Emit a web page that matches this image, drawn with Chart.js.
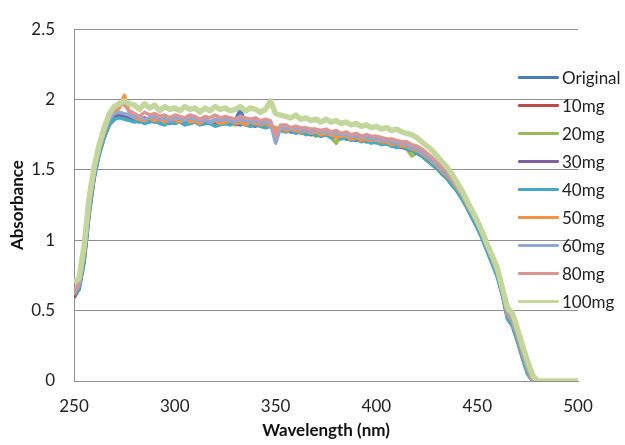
<!DOCTYPE html>
<html lang="en">
<head>
  <meta charset="UTF-8" />
  <title>Absorbance Spectra</title>
  <script src="https://cdn.jsdelivr.net/npm/chart.js"></script>
  <style>
    body {
      margin: 0;
      background: #ffffff;
      font-family: "Lato", sans-serif;
    }

    .wrap {
      position: relative;
      width: 625px;
      height: 445px;
    }

    .legend {
      position: absolute;
      left: 518px;
      top: 63px;
      color: #222;
      font-size: 17px;
    }

    .legend-item {
      display: flex;
      align-items: center;
      height: 28px;
    }

    .legend-item span.swatch {
      display: inline-block;
      width: 41px;
      height: 3px;
      margin-right: 3px;
      border-radius: 1px;
    }
  </style>
</head>
<body>

  <div class="wrap">
    <canvas id="spectra" width="625" height="445"></canvas>
    <div class="legend" id="legend"></div>
  </div>

  <script>
    // wavelength (nm), every 2.5 nm
    const wavelengths = [
      250, 252.5, 255, 257.5, 260, 262.5, 265, 267.5, 270, 272.5,
      275, 277.5, 280, 282.5, 285, 287.5, 290, 292.5, 295, 297.5,
      300, 302.5, 305, 307.5, 310, 312.5, 315, 317.5, 320, 322.5,
      325, 327.5, 330, 332.5, 335, 337.5, 340, 342.5, 345, 347.5,
      350, 352.5, 355, 357.5, 360, 362.5, 365, 367.5, 370, 372.5,
      375, 377.5, 380, 382.5, 385, 387.5, 390, 392.5, 395, 397.5,
      400, 402.5, 405, 407.5, 410, 412.5, 415, 417.5, 420, 422.5,
      425, 427.5, 430, 432.5, 435, 437.5, 440, 442.5, 445, 447.5,
      450, 452.5, 455, 457.5, 460, 462.5, 465, 467.5, 470, 472.5,
      475, 477.5, 480, 482.5, 485, 487.5, 490, 492.5, 495, 497.5,
      500
    ];

    const seriesNames = ['Original', '10mg', '20mg', '30mg', '40mg', '50mg', '60mg', '80mg', '100mg'];
    const seriesColors = ['#4a7ebb', '#be4b48', '#98b954', '#7d60a0', '#46aac5', '#f69240', '#8ea8d6', '#d99694', '#c3d69b'];

    const original = [
      0.60, 0.65, 0.84, 1.18, 1.44, 1.61, 1.73, 1.82, 1.86, 1.88,
      1.87, 1.86, 1.85, 1.86, 1.84, 1.85, 1.86, 1.84, 1.83, 1.85,
      1.84, 1.85, 1.83, 1.84, 1.85, 1.83, 1.84, 1.84, 1.82, 1.83,
      1.84, 1.83, 1.85, 1.93, 1.83, 1.82, 1.83, 1.82, 1.81, 1.82,
      1.78, 1.79, 1.78, 1.79, 1.77, 1.78, 1.76, 1.77, 1.76, 1.75,
      1.76, 1.74, 1.75, 1.73, 1.74, 1.72, 1.73, 1.71, 1.72, 1.70,
      1.71, 1.69, 1.70, 1.68, 1.67, 1.68, 1.66, 1.65, 1.63, 1.61,
      1.58, 1.55, 1.52, 1.48, 1.45, 1.40, 1.36, 1.30, 1.24, 1.17,
      1.10, 1.02, 0.93, 0.84, 0.75, 0.62, 0.45, 0.40, 0.29, 0.17,
      0.06, 0, 0, 0, 0, 0, 0, 0, 0, 0,
      0
    ];
    const mg10 = [
      0.59, 0.66, 0.86, 1.20, 1.46, 1.62, 1.75, 1.84, 1.88, 1.90,
      1.89, 1.87, 1.86, 1.85, 1.87, 1.85, 1.86, 1.84, 1.86, 1.85,
      1.84, 1.86, 1.84, 1.85, 1.86, 1.84, 1.85, 1.83, 1.85, 1.84,
      1.85, 1.83, 1.84, 1.85, 1.83, 1.84, 1.82, 1.84, 1.83, 1.82,
      1.79, 1.80, 1.79, 1.78, 1.79, 1.77, 1.78, 1.76, 1.77, 1.76,
      1.75, 1.76, 1.74, 1.75, 1.73, 1.74, 1.72, 1.73, 1.71, 1.72,
      1.70, 1.71, 1.69, 1.70, 1.68, 1.67, 1.67, 1.66, 1.64, 1.62,
      1.59, 1.56, 1.53, 1.49, 1.46, 1.41, 1.37, 1.31, 1.25, 1.18,
      1.11, 1.03, 0.94, 0.85, 0.76, 0.63, 0.46, 0.41, 0.30, 0.18,
      0.07, 0, 0, 0, 0, 0, 0, 0, 0, 0,
      0
    ];
    const mg20 = [
      0.61, 0.67, 0.88, 1.22, 1.47, 1.63, 1.75, 1.84, 1.88, 1.89,
      1.88, 1.87, 1.85, 1.86, 1.85, 1.84, 1.86, 1.85, 1.83, 1.85,
      1.85, 1.84, 1.83, 1.85, 1.84, 1.83, 1.85, 1.84, 1.83, 1.84,
      1.83, 1.84, 1.82, 1.84, 1.83, 1.81, 1.83, 1.82, 1.82, 1.81,
      1.80, 1.79, 1.77, 1.78, 1.78, 1.76, 1.77, 1.76, 1.74, 1.76,
      1.75, 1.73, 1.69, 1.74, 1.72, 1.73, 1.71, 1.72, 1.70, 1.71,
      1.69, 1.70, 1.68, 1.69, 1.66, 1.67, 1.65, 1.60, 1.62, 1.60,
      1.57, 1.54, 1.51, 1.47, 1.44, 1.39, 1.35, 1.29, 1.23, 1.16,
      1.09, 1.01, 0.92, 0.83, 0.74, 0.61, 0.45, 0.39, 0.28, 0.16,
      0.05, 0, 0, 0, 0, 0, 0, 0, 0, 0,
      0
    ];
    const mg30 = [
      0.60, 0.66, 0.87, 1.21, 1.46, 1.63, 1.74, 1.83, 1.87, 1.89,
      1.88, 1.86, 1.85, 1.84, 1.86, 1.85, 1.84, 1.85, 1.84, 1.83,
      1.85, 1.84, 1.84, 1.83, 1.85, 1.84, 1.83, 1.84, 1.83, 1.84,
      1.83, 1.84, 1.83, 1.82, 1.84, 1.82, 1.81, 1.83, 1.81, 1.82,
      1.78, 1.78, 1.79, 1.77, 1.77, 1.78, 1.76, 1.75, 1.76, 1.74,
      1.75, 1.74, 1.73, 1.74, 1.72, 1.72, 1.71, 1.72, 1.70, 1.71,
      1.70, 1.68, 1.69, 1.67, 1.67, 1.66, 1.65, 1.64, 1.62, 1.60,
      1.57, 1.54, 1.51, 1.48, 1.44, 1.40, 1.35, 1.30, 1.23, 1.16,
      1.09, 1.02, 0.93, 0.84, 0.75, 0.61, 0.46, 0.40, 0.29, 0.17,
      0.06, 0, 0, 0, 0, 0, 0, 0, 0, 0,
      0
    ];
    const mg40 = [
      0.61, 0.65, 0.85, 1.19, 1.45, 1.61, 1.73, 1.82, 1.86, 1.87,
      1.86, 1.85, 1.84, 1.85, 1.83, 1.84, 1.85, 1.83, 1.82, 1.84,
      1.83, 1.84, 1.82, 1.83, 1.84, 1.82, 1.83, 1.83, 1.81, 1.82,
      1.83, 1.82, 1.84, 1.83, 1.82, 1.81, 1.82, 1.81, 1.80, 1.81,
      1.77, 1.78, 1.77, 1.78, 1.76, 1.77, 1.75, 1.76, 1.75, 1.74,
      1.75, 1.73, 1.74, 1.72, 1.73, 1.71, 1.72, 1.70, 1.71, 1.69,
      1.70, 1.68, 1.69, 1.67, 1.66, 1.67, 1.65, 1.64, 1.62, 1.60,
      1.57, 1.54, 1.51, 1.47, 1.44, 1.39, 1.35, 1.29, 1.23, 1.16,
      1.09, 1.01, 0.92, 0.83, 0.74, 0.61, 0.44, 0.39, 0.28, 0.16,
      0.05, 0, 0, 0, 0, 0, 0, 0, 0, 0,
      0
    ];
    const mg50 = [
      0.62, 0.68, 0.89, 1.23, 1.48, 1.64, 1.76, 1.86, 1.91, 1.94,
      2.03, 1.90, 1.87, 1.86, 1.85, 1.87, 1.85, 1.86, 1.84, 1.86,
      1.85, 1.84, 1.86, 1.84, 1.85, 1.83, 1.86, 1.84, 1.85, 1.83,
      1.84, 1.85, 1.83, 1.84, 1.82, 1.84, 1.83, 1.82, 1.83, 1.81,
      1.79, 1.80, 1.78, 1.79, 1.78, 1.77, 1.78, 1.76, 1.77, 1.75,
      1.76, 1.75, 1.73, 1.74, 1.74, 1.72, 1.73, 1.71, 1.72, 1.71,
      1.71, 1.70, 1.70, 1.68, 1.69, 1.67, 1.67, 1.65, 1.64, 1.62,
      1.59, 1.56, 1.53, 1.49, 1.46, 1.42, 1.37, 1.32, 1.25, 1.19,
      1.12, 1.04, 0.95, 0.86, 0.77, 0.64, 0.47, 0.42, 0.31, 0.19,
      0.08, 0, 0, 0, 0, 0, 0, 0, 0, 0,
      0
    ];
    const mg60 = [
      0.63, 0.68, 0.90, 1.24, 1.48, 1.65, 1.77, 1.86, 1.90, 1.91,
      1.90, 1.89, 1.87, 1.88, 1.86, 1.87, 1.88, 1.86, 1.87, 1.85,
      1.87, 1.86, 1.85, 1.87, 1.86, 1.85, 1.86, 1.84, 1.86, 1.85,
      1.86, 1.85, 1.84, 1.86, 1.85, 1.84, 1.85, 1.83, 1.84, 1.83,
      1.69, 1.80, 1.80, 1.79, 1.80, 1.78, 1.79, 1.77, 1.78, 1.77,
      1.77, 1.76, 1.76, 1.75, 1.75, 1.74, 1.74, 1.73, 1.73, 1.72,
      1.72, 1.71, 1.71, 1.70, 1.69, 1.69, 1.68, 1.66, 1.65, 1.63,
      1.60, 1.57, 1.54, 1.50, 1.47, 1.43, 1.38, 1.32, 1.26, 1.19,
      1.12, 1.04, 0.95, 0.86, 0.77, 0.64, 0.48, 0.43, 0.32, 0.20,
      0.09, 0.01, 0, 0, 0, 0, 0, 0, 0, 0,
      0
    ];
    const mg80 = [
      0.64, 0.70, 0.92, 1.26, 1.50, 1.66, 1.78, 1.88, 1.93, 1.98,
      1.96, 1.92, 1.90, 1.88, 1.91, 1.89, 1.90, 1.88, 1.89, 1.87,
      1.89, 1.88, 1.87, 1.89, 1.88, 1.86, 1.88, 1.87, 1.89, 1.87,
      1.88, 1.87, 1.86, 1.88, 1.87, 1.86, 1.87, 1.85, 1.86, 1.85,
      1.74, 1.82, 1.82, 1.80, 1.81, 1.80, 1.80, 1.79, 1.79, 1.78,
      1.79, 1.77, 1.78, 1.76, 1.77, 1.75, 1.76, 1.74, 1.75, 1.74,
      1.74, 1.73, 1.72, 1.72, 1.71, 1.70, 1.70, 1.68, 1.67, 1.65,
      1.62, 1.59, 1.56, 1.52, 1.49, 1.44, 1.39, 1.33, 1.27, 1.20,
      1.13, 1.05, 0.96, 0.87, 0.78, 0.65, 0.50, 0.45, 0.34, 0.22,
      0.11, 0.02, 0, 0, 0, 0, 0, 0, 0, 0,
      0
    ];
    const mg100 = [
      0.70, 0.73, 0.96, 1.30, 1.52, 1.68, 1.80, 1.90, 1.95, 1.97,
      1.99, 1.97, 1.96, 1.93, 1.97, 1.94, 1.96, 1.92, 1.95, 1.93,
      1.94, 1.92, 1.95, 1.93, 1.94, 1.91, 1.94, 1.92, 1.95, 1.93,
      1.94, 1.92, 1.93, 1.95, 1.92, 1.94, 1.93, 1.91, 1.93, 1.99,
      1.90, 1.89, 1.88, 1.87, 1.89, 1.86, 1.87, 1.85, 1.86, 1.84,
      1.86, 1.84, 1.85, 1.83, 1.84, 1.82, 1.83, 1.81, 1.82, 1.80,
      1.81, 1.79, 1.80, 1.78, 1.79, 1.77, 1.76, 1.75, 1.73, 1.70,
      1.67, 1.64, 1.60, 1.56, 1.52, 1.47, 1.41, 1.35, 1.28, 1.21,
      1.14, 1.06, 0.97, 0.89, 0.80, 0.66, 0.52, 0.48, 0.37, 0.25,
      0.14, 0.04, 0, 0, 0, 0, 0, 0, 0, 0,
      0
    ];

    const allSeries = [original, mg10, mg20, mg30, mg40, mg50, mg60, mg80, mg100];
    const xTicks = [250, 300, 350, 400, 450, 500];
    const yTicks = [0, 0.5, 1, 1.5, 2, 2.5];

    const datasets = allSeries.map((vals, i) => ({
      label: seriesNames[i],
      data: vals.map((v, k) => ({ x: wavelengths[k], y: v })),
      borderColor: seriesColors[i],
      backgroundColor: seriesColors[i],
      borderWidth: i === 8 ? 5.5 : 3.5,
      borderJoinStyle: 'round',
      pointRadius: 0,
      tension: 0,
      order: allSeries.length - i   // later series drawn on top, like Excel
    }));

    const tickFont = { family: 'Lato', size: 17 };
    const gridColor = '#8e8e8e';

    new Chart(document.getElementById('spectra'), {
      type: 'line',
      data: { datasets },
      options: {
        responsive: false,
        animation: false,
        events: [],
        layout: { padding: { left: 3, right: 47, top: 20, bottom: 0 } },
        plugins: {
          legend: { display: false },
          tooltip: { enabled: false }
        },
        scales: {
          x: {
            type: 'linear',
            min: 250,
            max: 500,
            afterBuildTicks: (s) => { s.ticks = xTicks.map(v => ({ value: v })); },
            afterFit: (s) => { s.height = 64; },
            grid: { display: false, drawTicks: false },
            border: { display: true, color: gridColor, width: 1 },
            ticks: { font: tickFont, color: '#222', padding: 15, maxRotation: 0 },
            title: {
              display: true,
              text: 'Wavelength (nm)',
              color: '#111',
              font: { family: 'Lato', size: 17, weight: 'bold' }
            }
          },
          y: {
            min: 0,
            max: 2.5,
            afterBuildTicks: (s) => { s.ticks = yTicks.map(v => ({ value: v })); },
            afterFit: (s) => { s.width = 71; },
            grid: { color: gridColor, drawTicks: false },
            border: { display: true, color: gridColor, width: 1 },
            ticks: {
              font: tickFont,
              color: '#222',
              padding: 19,
              callback: (v) => String(v)
            },
            title: {
              display: true,
              text: 'Absorbance',
              color: '#111',
              font: { family: 'Lato', size: 17, weight: 'bold' }
            }
          }
        }
      }
    });

    // legend sits over the right part of the plot, as in the original
    const legendEl = document.getElementById('legend');
    seriesNames.forEach((name, i) => {
      const row = document.createElement('div');
      row.className = 'legend-item';
      row.innerHTML = '<span class="swatch" style="background:' + seriesColors[i] + '"></span>' + name;
      legendEl.appendChild(row);
    });
  </script>

</body>
</html>
